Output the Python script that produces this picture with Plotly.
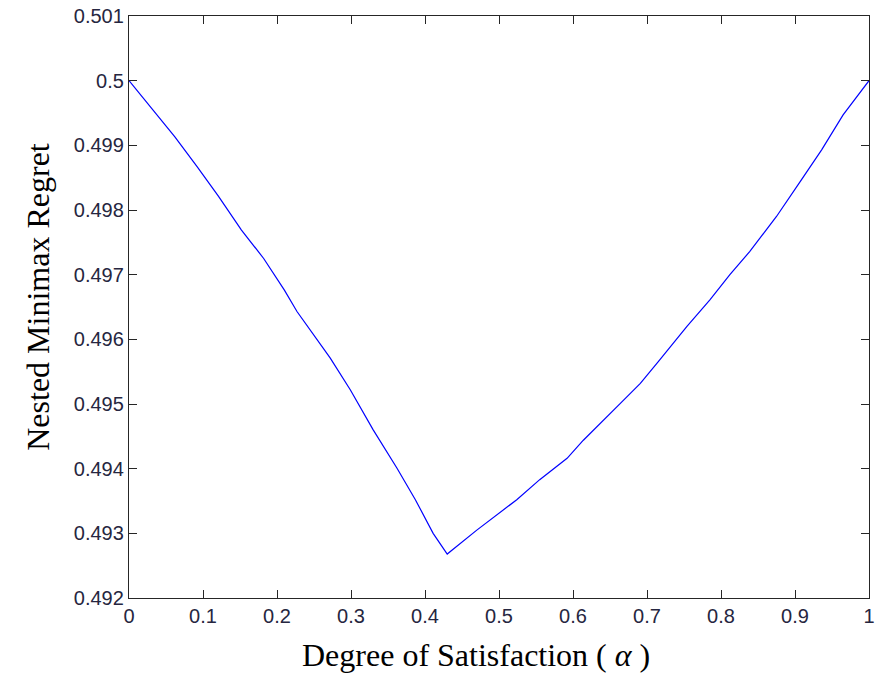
import plotly.graph_objects as go

alpha = [0.0, 0.062, 0.092, 0.121, 0.152, 0.182, 0.210, 0.227, 0.272, 0.299,
         0.330, 0.362, 0.387, 0.411, 0.430, 0.445, 0.470, 0.524, 0.555, 0.592,
         0.614, 0.664, 0.691, 0.715, 0.754, 0.785, 0.812, 0.839, 0.875, 0.907,
         0.936, 0.965, 1.0]
regret = [0.5, 0.49913, 0.49867, 0.49821, 0.49769, 0.49725, 0.49676, 0.49643,
          0.49571, 0.49522, 0.49460, 0.49401, 0.49352, 0.49300, 0.49268, 0.49282,
          0.49305, 0.49352, 0.49383, 0.49416, 0.49444, 0.49501, 0.49532, 0.49565,
          0.49620, 0.49661, 0.49700, 0.49736, 0.49790, 0.49844, 0.49893, 0.49947,
          0.5]

x_ticks = [0, 0.1, 0.2, 0.3, 0.4, 0.5, 0.6, 0.7, 0.8, 0.9, 1]
x_ticklabels = ["0", "0.1", "0.2", "0.3", "0.4", "0.5", "0.6", "0.7", "0.8", "0.9", "1"]
y_ticks = [0.492, 0.493, 0.494, 0.495, 0.496, 0.497, 0.498, 0.499, 0.5, 0.501]
y_ticklabels = ["0.492", "0.493", "0.494", "0.495", "0.496", "0.497", "0.498", "0.499", "0.5", "0.501"]

x_title = "Degree of Satisfaction ( <i>α</i> )"
y_title = "Nested Minimax Regret"

fig = go.Figure()
fig.add_trace(go.Scatter(x=alpha, y=regret, mode="lines",
                         line=dict(color="#0000ff", width=1.2), showlegend=False))

tickfont = dict(family="Liberation Sans, Arial, sans-serif", size=20, color="#262640")
axis_common = dict(showgrid=False, zeroline=False, showline=True, linecolor="#262626",
                   linewidth=1.3, mirror="ticks", ticks="inside", ticklen=8,
                   tickwidth=1.3, tickcolor="#262626", tickfont=tickfont,
                   ticklabeloverflow="allow", automargin=False)

fig.update_xaxes(range=[0, 1], tickvals=x_ticks, ticktext=x_ticklabels, **axis_common)
fig.update_yaxes(range=[0.492, 0.501], tickvals=y_ticks, ticktext=y_ticklabels, **axis_common)

titlefont = dict(family="Liberation Serif, Times New Roman, serif", size=32, color="black")
fig.add_annotation(text=x_title, xref="paper", yref="paper", x=0.469, y=-0.098,
                   xanchor="center", yanchor="middle", showarrow=False, font=titlefont)
fig.add_annotation(text=y_title, xref="paper", yref="paper", x=-0.124, y=0.518,
                   xanchor="center", yanchor="middle", textangle=-90, showarrow=False,
                   font=titlefont)

fig.update_layout(width=877, height=675, margin=dict(l=129, r=8, t=16, b=77),
                  plot_bgcolor="white", paper_bgcolor="white")

fig.write_html("out.html", config={"displayModeBar": False},
               post_script="document.body.style.margin='0';document.body.style.overflow='hidden';")
